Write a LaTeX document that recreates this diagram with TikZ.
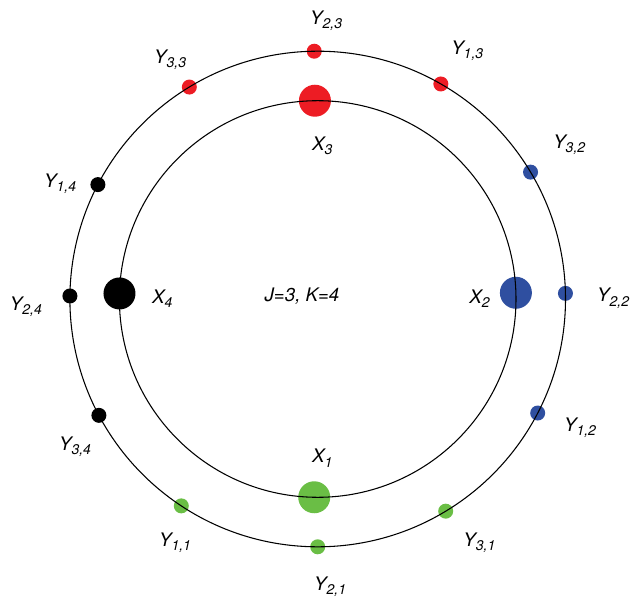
\documentclass[tikz,border=0pt]{standalone}
\usepackage{fontspec}
\setmainfont{TeX Gyre Heros}
\usetikzlibrary{calc,positioning}
\definecolor{dotred}{RGB}{237,28,36}
\definecolor{dotblue}{RGB}{47,79,160}
\definecolor{dotgreen}{RGB}{106,190,69}
% letter with a lowered index that takes no room
\newcommand{\sublab}[2]{#1\rlap{\smash{\raisebox{-3.2pt}{\fontsize{10.5}{10.5}\selectfont #2}}}}

\begin{document}
\begin{tikzpicture}[
    x=0.75pt, y=0.75pt,
    xdot/.style={circle, fill=#1, minimum size=24pt, inner sep=0pt},
    ydot/.style={circle, fill=#1, minimum size=11.25pt, inner sep=0pt},
    lbl/.style={font=\fontsize{14}{14}\selectfont\itshape, inner sep=0pt},
    ring/.style={draw, line width=0.8pt}
  ]
    \useasboundingbox (0,0) rectangle (632,601);
    \coordinate (c) at (317.7,302);

    % inner ring: X_k
    \node[xdot=dotgreen] (x1) at ($(c)+(269:198.3)$) {};
    \node[xdot=dotblue]  (x2) at ($(c)+(1.8:198.3)$) {};
    \node[xdot=dotred]   (x3) at ($(c)+(90.8:198.3)$) {};
    \node[xdot=black]    (x4) at ($(c)+(178.4:198.3)$) {};

    % outer ring: Y_{j,k}
    \node[ydot=dotgreen] (y11) at ($(c)+(236.6:247.8)$) {};
    \node[ydot=dotgreen] (y21) at ($(c)+(270:247.8)$) {};
    \node[ydot=dotgreen] (y31) at ($(c)+(301.1:247.8)$) {};
    \node[ydot=dotblue]  (y12) at ($(c)+(332.6:247.8)$) {};
    \node[ydot=dotblue]  (y22) at ($(c)+(1.3:247.8)$) {};
    \node[ydot=dotblue]  (y32) at ($(c)+(30.8:247.8)$) {};
    \node[ydot=dotred]   (y13) at ($(c)+(60.2:247.8)$) {};
    \node[ydot=dotred]   (y23) at ($(c)+(90.8:247.8)$) {};
    \node[ydot=dotred]   (y33) at ($(c)+(121.2:247.8)$) {};
    \node[ydot=black]    (y14) at ($(c)+(152.5:247.8)$) {};
    \node[ydot=black]    (y24) at ($(c)+(179.3:247.8)$) {};
    \node[ydot=black]    (y34) at ($(c)+(208:247.8)$) {};

    \draw[ring] (c) circle (198.3);
    \draw[ring] (c) circle (247.8);

    % labels
    \node[lbl] (lx1) at (318.4,144.9) {\sublab{X}{1}};
    \node[lbl] (lx2) at (475.6,304.8) {\sublab{X}{2}};
    \node[lbl] (lx3) at (318.4,457.3) {\sublab{X}{3}};
    \node[lbl] (lx4) at (158.4,304.8) {\sublab{X}{4}};

    \node[lbl] (ly11) at (165.3,61.3)  {\sublab{Y}{1,1}};
    \node[lbl] (ly21) at (320.4,17.6)  {\sublab{Y}{2,1}};
    \node[lbl] (ly31) at (469.6,61.3)  {\sublab{Y}{3,1}};
    \node[lbl] (ly12) at (570.3,176.3) {\sublab{Y}{1,2}};
    \node[lbl] (ly22) at (603.4,306.0) {\sublab{Y}{2,2}};
    \node[lbl] (ly32) at (559.5,459.2) {\sublab{Y}{3,2}};
    \node[lbl] (ly13) at (457.5,553.1) {\sublab{Y}{1,3}};
    \node[lbl] (ly23) at (316.4,583.8) {\sublab{Y}{2,3}};
    \node[lbl] (ly33) at (160.4,544.3) {\sublab{Y}{3,3}};
    \node[lbl] (ly14) at (50.4,420.1)  {\sublab{Y}{1,4}};
    \node[lbl] (ly24) at (16.1,297.1)  {\sublab{Y}{2,4}};
    \node[lbl] (ly34) at (65.3,157.2)  {\sublab{Y}{3,4}};

    \node[lbl] (jk) at (302,305.1) {J=3, K=4};
  \end{tikzpicture}
\end{document}
